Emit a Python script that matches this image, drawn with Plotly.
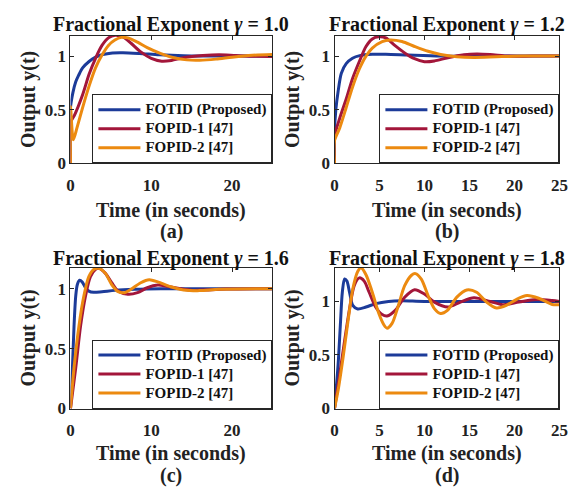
import plotly.graph_objects as go

# ---------------- data ----------------
series_names = ["FOTID (Proposed)", "FOPID-1 [47]", "FOPID-2 [47]"]
series_colors = ["#1c3b99", "#a3163a", "#ec8a10"]
panel_gammas = ["1.0", "1.2", "1.6", "1.8"]
panel_letters = ["(a)", "(b)", "(c)", "(d)"]
y_ticks = [0, 0.5, 1]
x_ticks_ac = [0, 10, 20]
x_ticks_bd = [0, 5, 10, 15, 20, 25]
y_tick_labels = ["0", "0.5", "1"]

# Panel (a) gamma = 1.0
t_a_fotid = [0, 0, 0.3, 0.65, 1.0, 1.5, 2.3, 3.1, 4.0, 5.2, 6.5, 8.5, 11, 14, 18, 25]
y_a_fotid = [0, 0.52, 0.66, 0.76, 0.82, 0.89, 0.95, 0.99, 1.015, 1.03, 1.032, 1.025, 1.012, 1.003, 1.0, 1.0]
t_a_fopid1 = [0, 0, 0.5, 1.5, 2.3, 3.1, 3.9, 4.7, 5.5, 6.5, 7.5, 8.7, 10, 11.3, 12.5, 14, 16.4, 18.4, 20.5, 23, 25]
y_a_fopid1 = [0, 0.38, 0.45, 0.64, 0.83, 0.98, 1.10, 1.17, 1.195, 1.18, 1.12, 1.04, 0.98, 0.953, 0.96, 0.985, 1.005, 1.012, 1.005, 0.998, 0.997]
t_a_fopid2 = [0, 0, 0.35, 0.8, 1.5, 2.3, 3.1, 3.9, 4.7, 5.5, 6.3, 7.1, 8.3, 9.5, 11.2, 12.8, 14.4, 16, 18, 20, 22.5, 25]
y_a_fopid2 = [0, 0.53, 0.22, 0.33, 0.52, 0.72, 0.89, 1.01, 1.10, 1.15, 1.175, 1.17, 1.13, 1.08, 1.024, 0.985, 0.965, 0.962, 0.972, 0.99, 1.008, 1.015]

# Panel (b) gamma = 1.2
t_b_fotid = [0, 0, 0.15, 0.4, 0.76, 1.3, 2.0, 2.8, 4.2, 5.7, 8.2, 11.8, 16, 25]
y_b_fotid = [0, 0.3, 0.5, 0.67, 0.84, 0.93, 0.98, 1.005, 1.017, 1.018, 1.01, 1.0, 1.0, 1.0]
t_b_fopid1 = [0, 0, 0.58, 1.3, 2.0, 2.76, 3.5, 4.2, 4.9, 5.7, 6.7, 7.8, 8.9, 10.0, 11.1, 12.6, 14.4, 15.8, 17.3, 19.4, 22, 25]
y_b_fopid1 = [0, 0.25, 0.42, 0.6, 0.79, 0.95, 1.09, 1.16, 1.18, 1.17, 1.1, 1.03, 0.976, 0.948, 0.955, 0.985, 1.012, 1.02, 1.015, 1.0, 1.0, 1.0]
t_b_fopid2 = [0, 0, 0.58, 1.3, 2.0, 2.76, 3.5, 4.2, 5.3, 6.2, 7.5, 8.9, 10.4, 11.8, 13.6, 15.5, 18, 20.9, 25]
y_b_fopid2 = [0, 0.21, 0.33, 0.52, 0.71, 0.88, 1.0, 1.075, 1.136, 1.15, 1.136, 1.09, 1.045, 1.015, 0.994, 0.988, 0.994, 1.0, 1.0]

# Panel (c) gamma = 1.6
t_c_fotid = [0, 0.24, 0.44, 0.65, 0.85, 1.13, 1.46, 1.86, 2.27, 2.87, 3.9, 5.5, 7.9, 11.2, 16, 25]
y_c_fotid = [0, 0.34, 0.69, 0.94, 1.035, 1.07, 1.055, 1.008, 0.98, 0.97, 0.975, 0.986, 0.995, 1.0, 1.0, 1.0]
t_c_fopid1 = [0, 0.65, 1.25, 1.86, 2.47, 3.07, 3.5, 4.3, 5.1, 5.9, 7.1, 8.3, 9.5, 10.8, 12, 13.6, 15.2, 16.8, 19.3, 25]
y_c_fopid1 = [0, 0.34, 0.69, 0.94, 1.10, 1.16, 1.17, 1.13, 1.05, 0.98, 0.954, 0.967, 1.008, 1.03, 1.02, 1.0, 0.986, 0.99, 0.997, 1.0]
t_c_fopid2 = [0, 0.44, 1.05, 1.66, 2.27, 2.87, 3.5, 4.3, 5.1, 5.9, 6.7, 7.5, 8.7, 9.75, 10.8, 12.4, 14, 16, 18.4, 25]
y_c_fopid2 = [0, 0.34, 0.69, 0.94, 1.10, 1.16, 1.17, 1.13, 1.035, 0.975, 0.967, 0.995, 1.05, 1.075, 1.057, 1.016, 0.99, 0.984, 0.995, 1.0]

# Panel (d) gamma = 1.8
t_d_fotid = [0, 0.4, 0.65, 0.87, 1.12, 1.38, 1.67, 2.03, 2.58, 3.5, 4.6, 6, 7.5, 10, 25]
y_d_fotid = [0, 0.41, 0.78, 1.086, 1.21, 1.19, 1.086, 0.963, 0.93, 0.948, 0.98, 1.0, 1.006, 1.0, 1.0]
t_d_fopid1 = [0, 0.58, 1.12, 1.67, 2.2, 2.76, 3.3, 3.85, 4.57, 5.3, 5.84, 6.75, 7.8, 8.9, 10, 11.1, 12.6, 14, 15.5, 17.3, 18.7, 20.5, 22.4, 24.2, 25]
y_d_fopid1 = [0, 0.32, 0.63, 0.93, 1.15, 1.22, 1.19, 1.086, 0.948, 0.878, 0.865, 0.917, 1.04, 1.11, 1.07, 0.994, 0.948, 0.994, 1.034, 1.0, 0.97, 0.994, 1.018, 1.009, 1.0]
t_d_fopid2 = [0, 0.4, 0.94, 1.49, 2.03, 2.58, 2.94, 3.5, 4.2, 4.93, 5.5, 5.84, 6.4, 7.1, 7.8, 8.56, 9.0, 9.65, 10.4, 11.1, 11.8, 12.55, 13.6, 14.7, 15.8, 16.9, 18, 19.1, 20.2, 21.4, 22.7, 24.2, 25]
y_d_fopid2 = [0, 0.17, 0.47, 0.81, 1.116, 1.28, 1.315, 1.25, 1.086, 0.887, 0.78, 0.75, 0.795, 0.963, 1.147, 1.245, 1.26, 1.208, 1.055, 0.933, 0.887, 0.917, 1.04, 1.107, 1.086, 0.994, 0.939, 0.963, 1.018, 1.055, 1.03, 0.972, 0.97]

panel_curves = [
    [(t_a_fotid, y_a_fotid), (t_a_fopid1, y_a_fopid1), (t_a_fopid2, y_a_fopid2)],
    [(t_b_fotid, y_b_fotid), (t_b_fopid1, y_b_fopid1), (t_b_fopid2, y_b_fopid2)],
    [(t_c_fotid, y_c_fotid), (t_c_fopid1, y_c_fopid1), (t_c_fopid2, y_c_fopid2)],
    [(t_d_fotid, y_d_fotid), (t_d_fopid1, y_d_fopid1), (t_d_fopid2, y_d_fopid2)],
]
y_max = [1.19, 1.19, 1.175, 1.315]
x_tick_sets = [x_ticks_ac, x_ticks_bd, x_ticks_ac, x_ticks_bd]

# ---------------- layout geometry ----------------
W, H = 586, 491
FONT = "Liberation Serif, Times New Roman, serif"
AX = "#262626"
# pixel boxes: (left, right, top, bottom)
boxes = [(68, 274.5, 36.5, 166.7), (338, 568, 36.5, 166.7),
         (68, 274.5, 273.3, 417), (338, 568, 273.3, 417)]
title_off = [-12, -12, -9, -9]
xlab_off = [48, 48, 46, 46]
let_off = [70, 70, 68, 68]

def px(x):
    return x / W

def py(y):
    return 1 - y / H

fig = go.Figure()
layout = dict(width=W, height=H, margin=dict(l=0, r=0, t=0, b=0),
              paper_bgcolor="white", plot_bgcolor="white", annotations=[],
              font=dict(family=FONT, color="#111"))

for i in range(4):
    k = "" if i == 0 else str(i + 1)
    L, R, T, B = boxes[i]
    legname = "legend" + k
    for j, (tt, yy) in enumerate(panel_curves[i]):
        fig.add_trace(go.Scatter(
            x=tt, y=yy, mode="lines",
            name='<span style="font-size:15px"><b>' + series_names[j] + "</b></span>",
            line=dict(color=series_colors[j], width=3, shape="spline", smoothing=0.8),
            xaxis="x" + k, yaxis="y" + k, legend=legname))
    common = dict(showline=True, linecolor=AX, linewidth=1, mirror="ticks",
                  ticks="inside", ticklen=4, tickcolor=AX, showgrid=False,
                  zeroline=False, tickfont=dict(family=FONT, size=17, color="#222", weight="bold"))
    layout["xaxis" + k] = dict(domain=[px(L), px(R)], range=[0, 25], anchor="y" + k,
                               tickvals=x_tick_sets[i], ticktext=[str(v) for v in x_tick_sets[i]],
                               ticklabelstandoff=6, **common)
    layout["yaxis" + k] = dict(domain=[py(B), py(T)], range=[0, y_max[i]], anchor="x" + k,
                               tickvals=y_ticks, ticktext=y_tick_labels, **common)
    layout[legname] = dict(x=px(R), y=py(B), xanchor="right", yanchor="bottom",
                           bgcolor="white", bordercolor=AX, borderwidth=1,
                           font=dict(family=FONT, size=12, color="#111"),
                           tracegroupgap=0, itemwidth=42)
    cx = (L + R) / 2
    layout["annotations"] += [
        dict(text="<b>Fractional Exponent <i>γ</i> = " + panel_gammas[i] + "</b>",
             x=px(cx), y=py(T + title_off[i]), xref="paper", yref="paper", showarrow=False,
             xanchor="center", yanchor="middle", font=dict(family=FONT, size=20, color="#111")),
        dict(text="<b>Time (in seconds)</b>", x=px(cx), y=py(B + xlab_off[i]), xref="paper", yref="paper",
             showarrow=False, xanchor="center", yanchor="middle",
             font=dict(family=FONT, size=20, color="#222")),
        dict(text="<b>" + panel_letters[i] + "</b>", x=px(cx), y=py(B + let_off[i]), xref="paper", yref="paper",
             showarrow=False, xanchor="center", yanchor="middle",
             font=dict(family=FONT, size=20, color="#222")),
        dict(text="<b>Output y(t)</b>", x=px(L - 43), y=py((T + B) / 2), xref="paper", yref="paper",
             showarrow=False, xanchor="center", yanchor="middle", textangle=-90,
             font=dict(family=FONT, size=20, color="#222")),
    ]

fig.update_layout(**layout)
fig.update_layout(showlegend=True)
fig.write_html("out.html")
